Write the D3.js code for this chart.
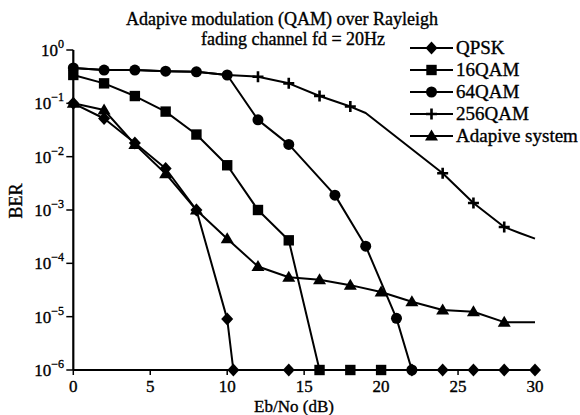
<!DOCTYPE html>
<html><head><meta charset="utf-8">
<script src="https://cdnjs.cloudflare.com/ajax/libs/d3/7.8.5/d3.min.js"></script>
<style>body{margin:0;background:#fff}svg{display:block}text{font-family:"Liberation Serif","Times New Roman",serif;fill:#000;stroke:#000;stroke-width:0.35px}</style>
</head><body><svg id="c" width="580" height="415"></svg>
<script>
// ---- data ----
const titleLines = ["Adapive modulation (QAM) over Rayleigh", "fading channel fd = 20Hz"];
const xTicks = [0, 5, 10, 15, 20, 25, 30];
const yTickExps = [0, -1, -2, -3, -4, -5, -6];
const xLabel = "Eb/No (dB)";
const yLabel = "BER";

const qpskX = [0, 2, 4, 6, 8, 10, 10.4, 14, 22, 24, 26, 28, 30];
const qpskY = [0.1, 0.052, 0.018, 0.006, 0.001, 9e-6, 1e-6, 1e-6, 1e-6, 1e-6, 1e-6, 1e-6, 1e-6];
const qpskMarks = [0, 2, 4, 6, 8, 10, 10.4, 14, 22, 24, 26, 28, 30];

const qam16X = [0, 2, 4, 6, 8, 10, 12, 14, 16, 18, 20];
const qam16Y = [0.34, 0.237, 0.137, 0.07, 0.026, 0.0069, 0.001, 2.7e-4, 1e-6, 1e-6, 1e-6];
const qam16Marks = [0, 2, 4, 6, 8, 10, 12, 14, 16, 18, 20];

const qam64X = [0, 2, 4, 6, 8, 10, 12, 14, 17, 19, 21, 22];
const qam64Y = [0.46, 0.42, 0.42, 0.40, 0.39, 0.34, 0.049, 0.017, 0.0019, 2.1e-4, 9.3e-6, 1e-6];
const qam64Marks = [0, 2, 4, 6, 8, 10, 12, 14, 17, 19, 21, 22];

const qam256X = [0, 2, 4, 6, 8, 10, 12, 14, 16, 18, 19, 24, 26, 28, 29, 30];
const qam256Y = [0.46, 0.42, 0.42, 0.40, 0.39, 0.34, 0.316, 0.237, 0.137, 0.087, 0.066, 0.0049, 0.00135, 4.8e-4, 3.7e-4, 2.9e-4];
const qam256Marks = [12, 14, 16, 18, 24, 26, 28];

const adaptX = [0, 2, 4, 6, 8, 10, 12, 14, 16, 18, 20, 22, 24, 26, 28, 30];
const adaptY = [0.1, 0.075, 0.017, 0.0048, 0.001, 2.9e-4, 8.7e-5, 5.5e-5, 4.9e-5, 3.9e-5, 2.9e-5, 1.9e-5, 1.33e-5, 1.24e-5, 7.9e-6, 7.9e-6];
const adaptMarks = [0, 2, 4, 6, 8, 10, 12, 14, 16, 18, 20, 22, 24, 26, 28];

const seriesNames = ["QPSK", "16QAM", "64QAM", "256QAM", "Adapive system"];

// ---- drawing ----
const svg = d3.select("#c");
const x = d3.scaleLinear().domain([0, 30]).range([73.3, 535]);
const y = d3.scaleLog().domain([1e-6, 1]).range([370, 50]);

const shapes = {
  diamond: "M0,-6.5L6,0L0,6.5L-6,0Z",
  square: "M-5.2,-5.2H5.2V5.2H-5.2Z",
  circle: d3.symbol(d3.symbolCircle, Math.PI * 5.5 * 5.5)(),
  plus: "M-5.5,0H5.5M0,-5.5V5.5",
  triangle: "M0,-6.5L6.5,4.5L-6.5,4.5Z"
};

const series = [
  {name: seriesNames[3], xs: qam256X, ys: qam256Y, marks: qam256Marks, shape: "plus"},
  {name: seriesNames[2], xs: qam64X, ys: qam64Y, marks: qam64Marks, shape: "circle"},
  {name: seriesNames[1], xs: qam16X, ys: qam16Y, marks: qam16Marks, shape: "square"},
  {name: seriesNames[0], xs: qpskX, ys: qpskY, marks: qpskMarks, shape: "diamond"},
  {name: seriesNames[4], xs: adaptX, ys: adaptY, marks: adaptMarks, shape: "triangle"}
];

function drawMarker(g, shape, cx, cy) {
  const p = g.append("path").attr("d", shapes[shape]).attr("transform", `translate(${cx},${cy})`);
  if (shape === "plus") p.attr("fill", "none").attr("stroke", "#000").attr("stroke-width", 2.6);
  else p.attr("fill", "#000");
}

const line = d3.line().x(d => x(d[0])).y(d => y(d[1]));
const plot = svg.append("g");
series.forEach(s => {
  const pts = s.xs.map((v, i) => [v, s.ys[i]]);
  plot.append("path").attr("d", line(pts)).attr("fill", "none").attr("stroke", "#000").attr("stroke-width", 2).attr("stroke-linejoin", "round");
  pts.filter(p => s.marks.includes(p[0])).forEach(p => drawMarker(plot, s.shape, x(p[0]), y(p[1])));
});

// axes
const ax = svg.append("g");
ax.append("line").attr("x1", x(0)).attr("x2", x(30)).attr("y1", y(1e-6)).attr("y2", y(1e-6)).attr("stroke", "#000").attr("stroke-width", 2.2);
ax.append("line").attr("x1", x(0)).attr("x2", x(0)).attr("y1", y(1)).attr("y2", y(1e-6)).attr("stroke", "#000").attr("stroke-width", 2.2);
xTicks.forEach(t => {
  ax.append("line").attr("x1", x(t)).attr("x2", x(t)).attr("y1", y(1e-6)).attr("y2", y(1e-6) + 5).attr("stroke", "#000").attr("stroke-width", 1.5);
  ax.append("text").attr("x", x(t)).attr("y", 392).attr("text-anchor", "middle").attr("font-size", 17).text(t);
});
yTickExps.forEach(e => {
  const yy = y(Math.pow(10, e));
  ax.append("line").attr("x1", x(0) - 7).attr("x2", x(0)).attr("y1", yy).attr("y2", yy).attr("stroke", "#000").attr("stroke-width", 1.5);
  const t = ax.append("text").attr("x", 64).attr("y", yy + 6).attr("text-anchor", "end").attr("font-size", 17);
  t.append("tspan").text("10");
  t.append("tspan").attr("dy", -8).attr("font-size", 12).text(e === 0 ? "0" : "\u2212" + Math.abs(e));
});

svg.append("text").attr("x", 294).attr("y", 412).attr("text-anchor", "middle").attr("font-size", 17).text(xLabel);
svg.append("text").attr("transform", "translate(22,201) rotate(-90)").attr("text-anchor", "middle").attr("font-size", 18).text(yLabel);

svg.append("text").attr("x", 282).attr("y", 25).attr("text-anchor", "middle").attr("font-size", 18).text(titleLines[0]);
svg.append("text").attr("x", 293).attr("y", 45).attr("text-anchor", "middle").attr("font-size", 18).text(titleLines[1]);

// legend
const lg = svg.append("g");
const legendY = d3.scalePoint().domain(seriesNames).range([48, 136]);
seriesNames.forEach(n => {
  const s = series.find(d => d.name === n);
  const yy = legendY(n);
  lg.append("line").attr("x1", 410).attr("x2", 453).attr("y1", yy).attr("y2", yy).attr("stroke", "#000").attr("stroke-width", 2);
  drawMarker(lg, s.shape, 431.5, yy);
  lg.append("text").attr("x", 456).attr("y", yy + 6).attr("font-size", 19).text(n);
});
</script></body></html>
